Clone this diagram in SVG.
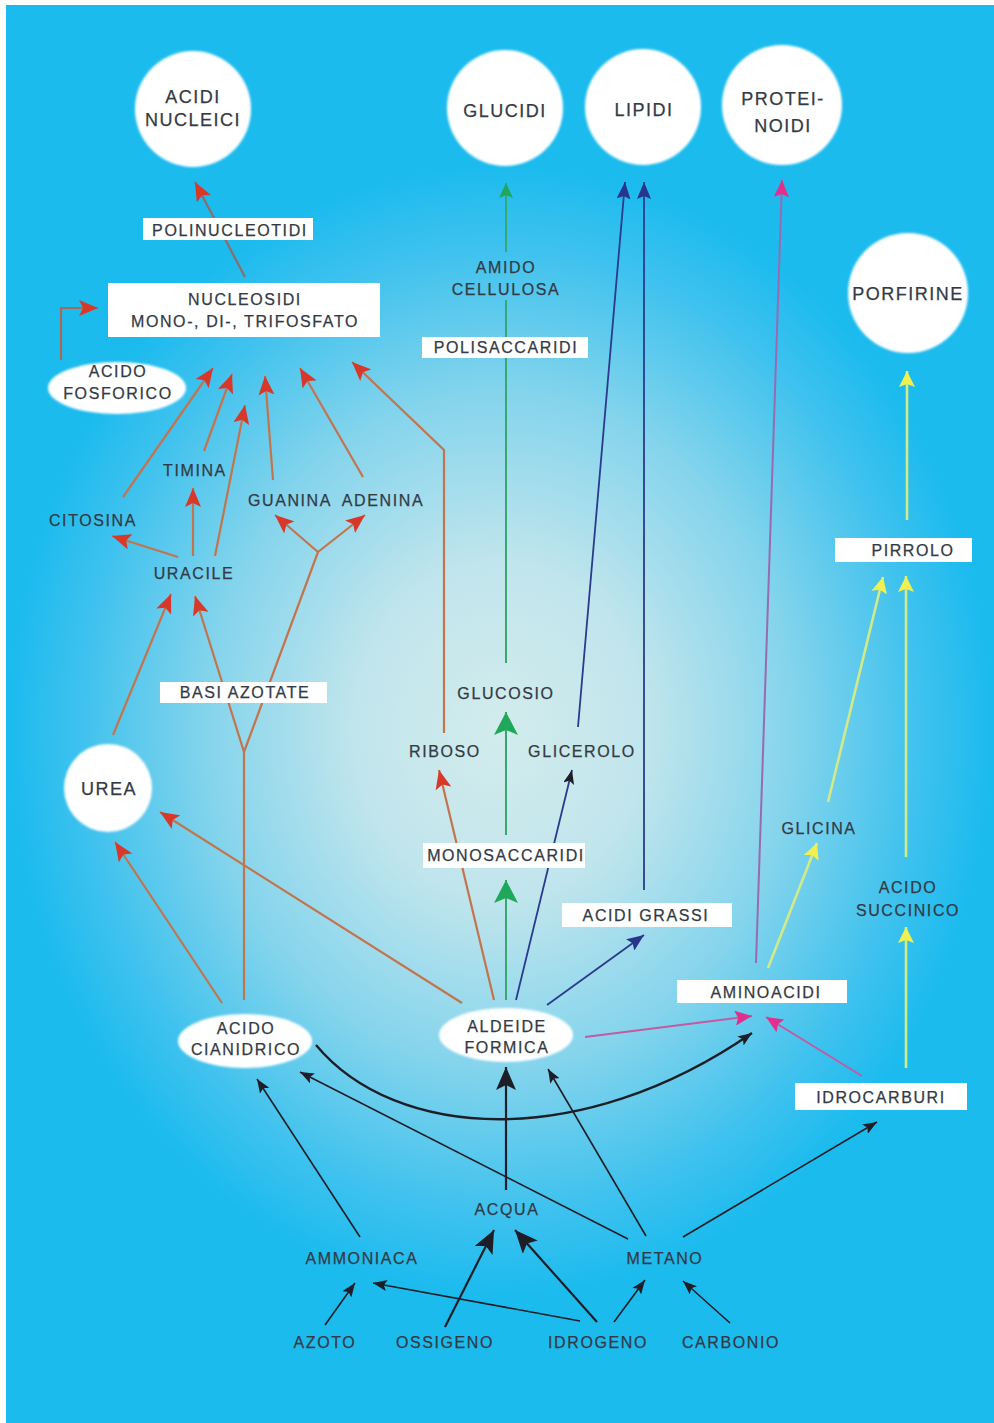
<svg xmlns="http://www.w3.org/2000/svg" width="994" height="1423" viewBox="0 0 994 1423">
<defs>
<radialGradient id="bg" gradientUnits="userSpaceOnUse" cx="500" cy="730" r="490" gradientTransform="translate(500 730) scale(1 1.15) translate(-500 -730)">
<stop offset="0" stop-color="#d3ecec"/>
<stop offset="0.3" stop-color="#c0e5ec"/>
<stop offset="0.6" stop-color="#84d4ec"/>
<stop offset="0.85" stop-color="#40c2ee"/>
<stop offset="1" stop-color="#1cbbee"/>
</radialGradient>
<filter id="soft" x="-10%" y="-10%" width="120%" height="120%"><feGaussianBlur stdDeviation="1.2"/></filter>
<marker id="aR" markerUnits="userSpaceOnUse" markerWidth="20" markerHeight="16" refX="19" refY="8" orient="auto"><path d="M0,0 L19,8 L0,16 L4,8z" fill="#d8382a"/></marker>
<marker id="aK" markerUnits="userSpaceOnUse" markerWidth="15" markerHeight="11" refX="14" refY="5.5" orient="auto"><path d="M0,0 L14,5.5 L0,11 L3,5.5z" fill="#1e1e26"/></marker>
<marker id="aKL" markerUnits="userSpaceOnUse" markerWidth="24" markerHeight="20" refX="23" refY="10" orient="auto"><path d="M0,0 L23,10 L0,20 L5,10z" fill="#1e1e26"/></marker>
<marker id="aGL" markerUnits="userSpaceOnUse" markerWidth="24" markerHeight="24" refX="23" refY="12" orient="auto"><path d="M0,0 L23,12 L0,24 L5,12z" fill="#1fa85a"/></marker>
<marker id="aG" markerUnits="userSpaceOnUse" markerWidth="16" markerHeight="14" refX="15" refY="7" orient="auto"><path d="M0,0 L15,7 L0,14 L3,7z" fill="#1fa85a"/></marker>
<marker id="aB" markerUnits="userSpaceOnUse" markerWidth="18" markerHeight="14" refX="17" refY="7" orient="auto"><path d="M0,0 L17,7 L0,14 L3,7z" fill="#28358c"/></marker>
<marker id="aM" markerUnits="userSpaceOnUse" markerWidth="18" markerHeight="15" refX="17" refY="7.5" orient="auto"><path d="M0,0 L17,7.5 L0,15 L3,7.5z" fill="#e0308c"/></marker>
<marker id="aY" markerUnits="userSpaceOnUse" markerWidth="17" markerHeight="16" refX="16" refY="8" orient="auto"><path d="M0,0 L16,8 L0,16 L3,8z" fill="#f0f050"/></marker>
</defs>
<style>
.t{font-family:"Liberation Sans",Arial,sans-serif;font-size:16px;letter-spacing:1.6px;fill:#333a44;stroke:#333a44;stroke-width:0.25;text-anchor:middle}
.tc{font-size:18px;letter-spacing:1.5px}
.circ{fill:#ffffff;filter:url(#soft)}
.box{fill:#ffffff}
.r{stroke:#c4744c;stroke-width:2.2;fill:none;marker-end:url(#aR)}
.g{stroke:#38a870;stroke-width:2;fill:none}
.b{stroke:#2b3a8c;stroke-width:1.8;fill:none}
.m{stroke:#c45aa0;stroke-width:2;fill:none;marker-end:url(#aM)}
.y{stroke:#d2ea88;stroke-width:2.6;fill:none;marker-end:url(#aY)}
.k{stroke:#1e1e26;stroke-width:1.6;fill:none;marker-end:url(#aK)}
.kl{stroke:#1e1e26;stroke-width:2.2;fill:none;marker-end:url(#aKL)}
</style>
<rect x="0" y="0" width="994" height="1423" fill="#ffffff"/>
<rect x="6" y="5" width="988" height="1418" fill="url(#bg)"/>

<g id="connectors">
<path class="r" d="M245,277 L195,182" style="stroke:#8a6e6a"/>
<path class="r" d="M61,360 L61,308 L98,308" style="stroke:#a86a55"/>
<path class="r" d="M123,497 L213,368"/>
<path class="r" d="M204,451 L232,374"/>
<path class="r" d="M215,556 L245,405"/>
<path class="r" d="M273,480 L265,376"/>
<path class="r" d="M363,477 L300,368"/>
<path class="r" d="M444,733 L444,450 L352,362"/>
<path class="r" d="M178,557 L112,536"/>
<path class="r" d="M193,556 L193,488"/>
<path class="r" d="M113,735 L171,594"/>
<path class="r" d="M244,1000 L244,752 L195,596"/>
<path class="r" d="M244,752 L318,552 L275,515"/>
<path class="r" d="M318,552 L365,515"/>
<path class="r" d="M222,1003 L115,842"/>
<path class="r" d="M462,1003 L160,812"/>
<path class="r" d="M494,1000 L439,770"/>

<path class="g" d="M506,1000 L506,880" marker-end="url(#aGL)"/>
<path class="g" d="M506,835 L506,712" marker-end="url(#aGL)"/>
<path class="g" d="M506,663 L506,300"/>
<path class="g" d="M506,252 L506,183" marker-end="url(#aG)"/>

<path class="b" d="M516,1000 L572,770" marker-end="url(#aK)"/>
<path class="b" d="M578,727 L625,182" marker-end="url(#aB)"/>
<path class="b" d="M547,1005 L644,935" marker-end="url(#aB)"/>
<path class="b" d="M644,890 L644,182" marker-end="url(#aB)"/>

<path class="m" d="M756,963 L782,180" style="stroke:#9a6ab0"/>
<path class="m" d="M585,1037 L752,1016"/>
<path class="m" d="M862,1076 L766,1017"/>

<path class="y" d="M768,968 L817,843"/>
<path class="y" d="M828,802 L883,577"/>
<path class="y" d="M906,857 L906,576"/>
<path class="y" d="M906,1068 L906,927"/>
<path class="y" d="M907,520 L907,371"/>

<path class="kl" d="M506,1190 L506,1067"/>
<path class="k" d="M646,1236 L548,1069"/>
<path class="k" d="M628,1239 L300,1072"/>
<path class="k" d="M360,1237 L257,1079"/>
<path class="k" d="M316,1045 C395,1140 580,1152 752,1033" style="stroke-width:2.4"/>
<path class="k" d="M683,1237 L877,1122"/>
<path class="k" d="M325,1325 L355,1283"/>
<path class="k" d="M580,1321 L373,1283"/>
<path class="kl" d="M445,1327 L494,1230"/>
<path class="kl" d="M597,1322 L515,1230"/>
<path class="k" d="M614,1322 L645,1280"/>
<path class="k" d="M730,1323 L683,1281"/>
</g>

<g id="acidi-nucleici"><circle class="circ" cx="193" cy="109" r="58"/><text class="t tc" x="193" y="103">ACIDI</text><text class="t tc" x="193" y="126">NUCLEICI</text></g>
<g id="glucidi"><circle class="circ" cx="505" cy="108" r="58"/><text class="t tc" x="505" y="117">GLUCIDI</text></g>
<g id="lipidi"><circle class="circ" cx="643" cy="107" r="58"/><text class="t tc" x="644" y="116">LIPIDI</text></g>
<g id="proteinoidi"><circle class="circ" cx="782" cy="105" r="60"/><text class="t tc" x="783" y="105">PROTEI-</text><text class="t tc" x="783" y="132">NOIDI</text></g>
<g id="porfirine"><circle class="circ" cx="908" cy="293" r="60"/><text class="t tc" x="908" y="300">PORFIRINE</text></g>
<g id="urea"><circle class="circ" cx="108" cy="788" r="44"/><text class="t tc" x="109" y="795">UREA</text></g>

<g id="polinucleotidi"><rect class="box" x="143" y="218" width="170" height="22"/><text class="t" x="230" y="236">POLINUCLEOTIDI</text></g>
<g id="nucleosidi"><rect class="box" x="108" y="283" width="272" height="54"/><text class="t" x="245" y="305">NUCLEOSIDI</text><text class="t" x="245" y="327">MONO-, DI-, TRIFOSFATO</text></g>
<g id="acido-fosforico"><ellipse class="circ" cx="117" cy="388" rx="69" ry="26"/><text class="t" x="118" y="377">ACIDO</text><text class="t" x="118" y="399">FOSFORICO</text></g>
<g id="timina"><text class="t" x="195" y="476">TIMINA</text></g>
<g id="citosina"><text class="t" x="93" y="526">CITOSINA</text></g>
<g id="guanina"><text class="t" x="290" y="506">GUANINA</text></g>
<g id="adenina"><text class="t" x="383" y="506">ADENINA</text></g>
<g id="uracile"><text class="t" x="194" y="579">URACILE</text></g>
<g id="basi-azotate"><rect class="box" x="160" y="682" width="167" height="21"/><text class="t" x="245" y="698">BASI AZOTATE</text></g>
<g id="amido-cellulosa"><text class="t" x="506" y="273">AMIDO</text><text class="t" x="506" y="295">CELLULOSA</text></g>
<g id="polisaccaridi"><rect class="box" x="422" y="337" width="166" height="21"/><text class="t" x="506" y="353">POLISACCARIDI</text></g>
<g id="glucosio"><text class="t" x="506" y="699">GLUCOSIO</text></g>
<g id="riboso"><text class="t" x="445" y="757">RIBOSO</text></g>
<g id="glicerolo"><text class="t" x="582" y="757">GLICEROLO</text></g>
<g id="monosaccaridi"><rect class="box" x="423" y="843" width="162" height="25"/><text class="t" x="506" y="861">MONOSACCARIDI</text></g>
<g id="acidi-grassi"><rect class="box" x="562" y="903" width="170" height="24"/><text class="t" x="646" y="921">ACIDI GRASSI</text></g>
<g id="pirrolo"><rect class="box" x="835" y="538" width="137" height="24"/><text class="t" x="913" y="556">PIRROLO</text></g>
<g id="glicina"><text class="t" x="819" y="834">GLICINA</text></g>
<g id="acido-succinico"><text class="t" x="908" y="893">ACIDO</text><text class="t" x="908" y="916">SUCCINICO</text></g>
<g id="aminoacidi"><rect class="box" x="677" y="980" width="170" height="23"/><text class="t" x="766" y="998">AMINOACIDI</text></g>
<g id="aldeide-formica"><ellipse class="circ" cx="506" cy="1035" rx="67" ry="27"/><text class="t" x="507" y="1032">ALDEIDE</text><text class="t" x="507" y="1053">FORMICA</text></g>
<g id="acido-cianidrico"><ellipse class="circ" cx="245" cy="1041" rx="67" ry="27"/><text class="t" x="246" y="1034">ACIDO</text><text class="t" x="246" y="1055">CIANIDRICO</text></g>
<g id="idrocarburi"><rect class="box" x="795" y="1083" width="172" height="27"/><text class="t" x="881" y="1103">IDROCARBURI</text></g>
<g id="acqua"><text class="t" x="507" y="1215">ACQUA</text></g>
<g id="ammoniaca"><text class="t" x="362" y="1264">AMMONIACA</text></g>
<g id="metano"><text class="t" x="665" y="1264">METANO</text></g>
<g id="azoto"><text class="t" x="325" y="1348">AZOTO</text></g>
<g id="ossigeno"><text class="t" x="445" y="1348">OSSIGENO</text></g>
<g id="idrogeno"><text class="t" x="598" y="1348">IDROGENO</text></g>
<g id="carbonio"><text class="t" x="731" y="1348">CARBONIO</text></g>
</svg>
